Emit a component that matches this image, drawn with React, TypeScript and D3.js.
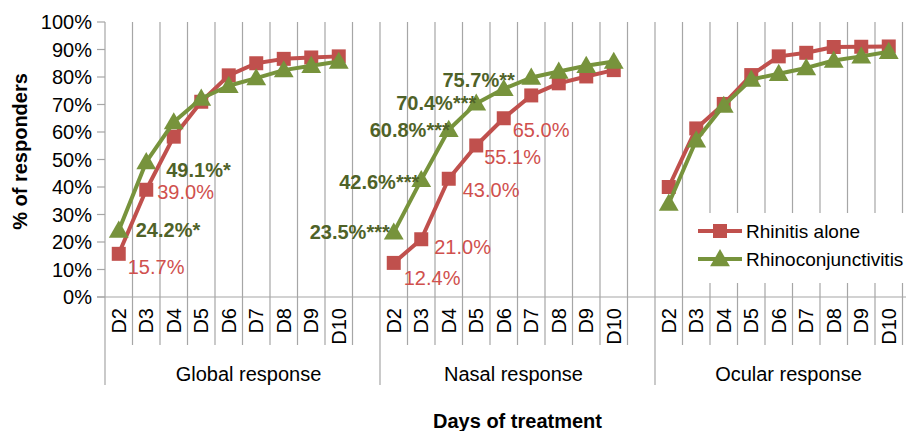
import * as d3 from "d3";
import { useEffect, useRef } from "react";

// categories
const groups = ["Global response", "Nasal response", "Ocular response"];
const days = ["D2", "D3", "D4", "D5", "D6", "D7", "D8", "D9", "D10"];
const seriesNames = ["Rhinitis alone", "Rhinoconjunctivitis"];

// % of responders, D2..D10
const rhinitisGlobal = [15.7, 39.0, 58.3, 71.0, 80.6, 85.0, 86.6, 87.1, 87.5];
const rhinoconjGlobal = [24.2, 49.1, 63.6, 72.2, 76.8, 79.6, 82.5, 84.1, 85.6];
const rhinitisNasal = [12.4, 21.0, 43.0, 55.1, 65.0, 73.3, 77.7, 80.2, 82.5];
const rhinoconjNasal = [23.5, 42.6, 60.8, 70.4, 75.7, 79.8, 82.0, 84.1, 85.6];
const rhinitisOcular = [40.0, 61.3, 70.2, 80.7, 87.5, 88.8, 90.9, 91.0, 91.1];
const rhinoconjOcular = [34.0, 57.0, 69.6, 79.1, 81.2, 83.3, 86.0, 87.5, 89.2];

const yTicks = [0, 10, 20, 30, 40, 50, 60, 70, 80, 90, 100];

// data labels: series index, group index, day index, text
const annotations = [
  { s: 0, g: 0, d: 0, text: "15.7%" },
  { s: 0, g: 0, d: 1, text: "39.0%" },
  { s: 1, g: 0, d: 0, text: "24.2%*" },
  { s: 1, g: 0, d: 1, text: "49.1%*" },
  { s: 0, g: 1, d: 0, text: "12.4%" },
  { s: 0, g: 1, d: 1, text: "21.0%" },
  { s: 0, g: 1, d: 2, text: "43.0%" },
  { s: 0, g: 1, d: 3, text: "55.1%" },
  { s: 0, g: 1, d: 4, text: "65.0%" },
  { s: 1, g: 1, d: 0, text: "23.5%***" },
  { s: 1, g: 1, d: 1, text: "42.6%***" },
  { s: 1, g: 1, d: 2, text: "60.8%***" },
  { s: 1, g: 1, d: 3, text: "70.4%***" },
  { s: 1, g: 1, d: 4, text: "75.7%**" },
];
// where each label sits relative to its point (same order as annotations)
const labelPlace = [
  [9, 13, "start"], [11, 2, "start"], [17, 0, "start"], [20, 8, "start"],
  [10, 15, "start"], [13, 8, "start"], [14, 11, "start"], [8, 12, "start"], [9, 12, "start"],
  [-4, 0, "end"], [-2, 2, "end"], [1, 0, "end"], [0, 0, "end"], [11, -9, "end"],
];
// small nudges of the group captions
const groupShift = [6, -4, -4];

const RED = "#C0504D";
const GREEN = "#77933C";
const GRID = "#A6A6A6";
const FONT = "'Liberation Sans', Arial, Helvetica, sans-serif";

export default function App() {
  const ref = useRef(null);

  useEffect(() => {
    const width = 906, height = 431;
    const left = 105, top = 22, bottom = 297;
    const slotW = 27.5;

    const svg = d3.select(ref.current);
    svg.selectAll("*").remove();
    svg.attr("width", width).attr("height", height);

    // every group has 9 days + one blank slot
    const slots = [];
    groups.forEach((g, gi) => {
      days.forEach((d) => slots.push(`${gi}-${d}`));
      slots.push(`${gi}-blank`);
    });
    const x = d3.scaleBand().domain(slots).range([left, left + slots.length * slotW]);
    const y = d3.scaleLinear().domain([0, 100]).range([bottom, top]);
    const cx = (gi, d) => x(`${gi}-${d}`) + x.bandwidth() / 2;

    const series = [
      [rhinitisGlobal, rhinitisNasal, rhinitisOcular],
      [rhinoconjGlobal, rhinoconjNasal, rhinoconjOcular],
    ];
    const colors = [RED, GREEN];

    // vertical gridlines at slot boundaries
    const bounds = slots.map((s) => x(s)).concat([x.range()[1]]);
    svg.append("g").selectAll("line").data(bounds.slice(1)).join("line")
      .attr("x1", d => d).attr("x2", d => d)
      .attr("y1", top).attr("y2", bottom)
      .attr("stroke", GRID).attr("stroke-width", 1.2);

    // category separators below the axis
    svg.append("g").selectAll("line").data(bounds).join("line")
      .attr("x1", d => d).attr("x2", d => d)
      .attr("y1", bottom)
      .attr("y2", (d, i) => (i % 10 === 0 && i < 30 ? 385 : 345))
      .attr("stroke", GRID).attr("stroke-width", 1.2);

    // axes
    svg.append("line").attr("x1", left).attr("x2", left).attr("y1", top).attr("y2", bottom)
      .attr("stroke", GRID).attr("stroke-width", 1.2);
    svg.append("line").attr("x1", left - 8).attr("x2", x.range()[1]).attr("y1", bottom).attr("y2", bottom)
      .attr("stroke", GRID).attr("stroke-width", 1.2);

    const yAxis = svg.append("g");
    yAxis.selectAll("line").data(yTicks).join("line")
      .attr("x1", left - 8).attr("x2", left)
      .attr("y1", d => y(d)).attr("y2", d => y(d))
      .attr("stroke", GRID).attr("stroke-width", 1.2);
    yAxis.selectAll("text").data(yTicks).join("text")
      .attr("x", 92).attr("y", d => y(d) + 7)
      .attr("text-anchor", "end")
      .attr("font-family", FONT).attr("font-size", 20).attr("fill", "#000")
      .text(d => `${d}%`);

    svg.append("text")
      .attr("transform", `translate(27,${(top + bottom) / 2 - 8}) rotate(-90)`)
      .attr("text-anchor", "middle")
      .attr("font-family", FONT).attr("font-size", 20).attr("font-weight", "bold")
      .text("% of responders");

    // day labels
    groups.forEach((g, gi) => {
      svg.append("g").selectAll("text").data(days).join("text")
        .attr("transform", d => `translate(${cx(gi, d) + 7},308) rotate(-90)`)
        .attr("text-anchor", "end")
        .attr("font-family", FONT).attr("font-size", 20)
        .text(d => d);
    });

    // group labels
    svg.append("g").selectAll("text").data(groups).join("text")
      .attr("x", (g, gi) => x(`${gi}-D2`) + (slotW * 10) / 2 + groupShift[gi])
      .attr("y", 381)
      .attr("text-anchor", "middle")
      .attr("font-family", FONT).attr("font-size", 20)
      .text(g => g);

    svg.append("text")
      .attr("x", left + (slots.length * slotW) / 2).attr("y", 428)
      .attr("text-anchor", "middle")
      .attr("font-family", FONT).attr("font-size", 20).attr("font-weight", "bold")
      .text("Days of treatment");

    // lines and markers
    const line = d3.line().x(d => d[0]).y(d => d[1]);
    const square = d3.symbol().type(d3.symbolSquare).size(196);
    const triangle = d3.symbol().type(d3.symbolTriangle).size(170);

    series.forEach((byGroup, si) => {
      byGroup.forEach((vals, gi) => {
        const pts = vals.map((v, i) => [cx(gi, days[i]), y(v)]);
        svg.append("path").attr("d", line(pts))
          .attr("fill", "none").attr("stroke", colors[si]).attr("stroke-width", 4)
          .attr("stroke-linejoin", "round");
        svg.append("g").selectAll("path").data(pts).join("path")
          .attr("transform", d => `translate(${d[0]},${d[1] + (si === 1 ? 1.5 : 0)})`)
          .attr("d", si === 0 ? square() : triangle())
          .attr("fill", colors[si]);
      });
    });

    // data labels
    annotations.forEach((a, i) => {
      const [dx, dy, anchor] = labelPlace[i];
      const v = series[a.s][a.g][a.d];
      svg.append("text")
        .attr("x", cx(a.g, days[a.d]) + dx)
        .attr("y", y(v) + dy + 7)
        .attr("text-anchor", anchor)
        .attr("font-family", FONT).attr("font-size", 20)
        .attr("font-weight", a.s === 1 ? "bold" : "normal")
        .attr("fill", a.s === 1 ? "#4F6228" : "#D0504D")
        .text(a.text);
    });

    // legend
    const lg = svg.append("g");
    lg.append("rect").attr("x", 690).attr("y", 213).attr("width", 240).attr("height", 70).attr("fill", "#fff");
    seriesNames.forEach((name, si) => {
      const ly = 231 + si * 28;
      lg.append("line").attr("x1", 698).attr("x2", 742).attr("y1", ly).attr("y2", ly)
        .attr("stroke", colors[si]).attr("stroke-width", 4);
      lg.append("path").attr("transform", `translate(720,${ly + (si === 1 ? 1.5 : 0)})`)
        .attr("d", si === 0 ? square() : triangle()).attr("fill", colors[si]);
      lg.append("text").attr("x", 746).attr("y", ly + 7)
        .attr("font-family", FONT).attr("font-size", 19)
        .text(name);
    });
  }, []);

  return (
    <div style={{ position: "fixed", left: 0, top: 0, background: "#fff" }}>
      <svg ref={ref} style={{ display: "block" }}></svg>
    </div>
  );
}
